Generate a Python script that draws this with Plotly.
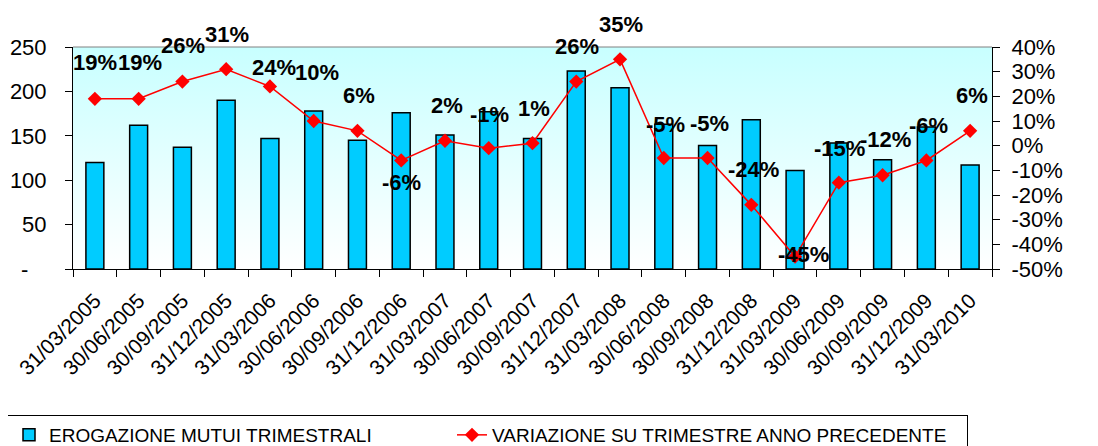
import base64
import plotly.graph_objects as go

# ---- data ----
dates = ["31/03/2005", "30/06/2005", "30/09/2005", "31/12/2005", "31/03/2006",
         "30/06/2006", "30/09/2006", "31/12/2006", "31/03/2007", "30/06/2007",
         "30/09/2007", "31/12/2007", "31/03/2008", "30/06/2008", "30/09/2008",
         "31/12/2008", "31/03/2009", "30/06/2009", "30/09/2009", "31/12/2009",
         "31/03/2010"]
erogazione = [120, 162, 137, 190, 147, 178, 145, 176, 151, 177, 147,
              223, 204, 163, 139, 168, 111, 142, 123, 160, 117]
variazione = [19, 19, 26, 31, 24, 10, 6, -6, 2, -1, 1,
              26, 35, -5, -5, -24, -45, -15, -12, -6, 6]
left_ticks = [0, 50, 100, 150, 200, 250]
right_ticks = [-50, -40, -30, -20, -10, 0, 10, 20, 30, 40]

# label placement (pixels, styling only)
label_dx = [0, 1, 1, 1, 4, 3, 2, 0, 2, 1, 1, 1, 1, 2, 2, 2, 8, 1, 3, 2, 2]
label_dy = [36, 36, 36, 35, 19, 49, 35, -22, 35, 34, 35, 35, 35, 34, 35, 35, 2, 34, 36, 35, 35]

FONT = "Liberation Sans, Arial, sans-serif"

fig = go.Figure()
fig.add_trace(go.Bar(
    x=dates, y=erogazione, name="EROGAZIONE MUTUI TRIMESTRALI",
    marker=dict(color="#00CCFF", line=dict(color="black", width=1.5)),
    yaxis="y", legendwidth=389,
))
fig.add_trace(go.Scatter(
    x=dates, y=variazione, name="VARIAZIONE SU TRIMESTRE ANNO PRECEDENTE",
    mode="lines+markers", yaxis="y2",
    line=dict(color="#FF0000", width=1.5),
    marker=dict(symbol="diamond", size=11, color="#FF0000"),
    legendwidth=470,
))

annotations = []
for d, v, dx, dy in zip(dates, variazione, label_dx, label_dy):
    annotations.append(dict(
        x=d, y=v, xref="x", yref="y2", text=f"{v}%", showarrow=False,
        xshift=dx, yshift=dy,
        font=dict(family=FONT, size=22, color="black", weight="bold"),
    ))

svg = ('<svg xmlns="http://www.w3.org/2000/svg" width="100" height="100" preserveAspectRatio="none">'
       '<defs><linearGradient id="g" x1="0" y1="0" x2="0" y2="1">'
       '<stop offset="0" stop-color="#C8FFFF"/><stop offset="1" stop-color="#FFFFFF"/>'
       '</linearGradient></defs><rect width="100" height="100" fill="url(#g)"/></svg>')
src = "data:image/svg+xml;base64," + base64.b64encode(svg.encode()).decode()

fig.update_layout(
    width=1090, height=438,
    margin=dict(l=65, r=106, t=39, b=177, autoexpand=False),
    paper_bgcolor="white", plot_bgcolor="rgba(0,0,0,0)",
    font=dict(family=FONT, color="black"),
    bargap=0.59,
    showlegend=True,
    images=[dict(source=src, xref="paper", yref="paper", x=0, y=1, sizex=1, sizey=1,
                 sizing="stretch", layer="below", xanchor="left", yanchor="top")],
    xaxis=dict(type="category", range=[-0.5, len(dates) - 0.5], tickson="boundaries",
               ticks="outside", ticklen=7, tickcolor="black", showline=True,
               linecolor="black", linewidth=1, tickangle=-45,
               tickfont=dict(size=21), showgrid=False, ticklabelstandoff=10),
    yaxis=dict(range=[0, 250], tickvals=left_ticks,
               ticktext=[("-" + "\u00a0" * 3 if t == 0 else str(t)) for t in left_ticks],
               ticks="outside", ticklen=7, tickcolor="black", showline=True,
               linecolor="black", linewidth=1, showgrid=False, zeroline=False,
               tickfont=dict(size=22), ticklabelstandoff=14),
    yaxis2=dict(range=[-50, 40], tickvals=right_ticks,
                ticktext=[f"{t}%" for t in right_ticks], overlaying="y", side="right",
                ticks="outside", ticklen=7, tickcolor="black", showline=True,
                linecolor="black", linewidth=1, showgrid=False, zeroline=False,
                tickfont=dict(size=22), ticklabelstandoff=7),
    yaxis3=dict(range=[-50, 40], tickvals=right_ticks, overlaying="y", side="right",
                ticks="inside", ticklen=7, tickcolor="black", showline=False,
                showticklabels=False, showgrid=False, zeroline=False),
    legend=dict(orientation="h", x=-74 / 919, xanchor="left",
                y=-(415 - 269) / 222, yanchor="top", xref="paper", yref="paper",
                bordercolor="black", borderwidth=1, bgcolor="white",
                font=dict(size=19), indentation=9),
    annotations=annotations,
    shapes=[dict(type="line", xref="paper", yref="paper", x0=0, x1=1, y0=1, y1=1,
                 line=dict(color="#808080", width=1))],
)

fig.write_html("out.html")
